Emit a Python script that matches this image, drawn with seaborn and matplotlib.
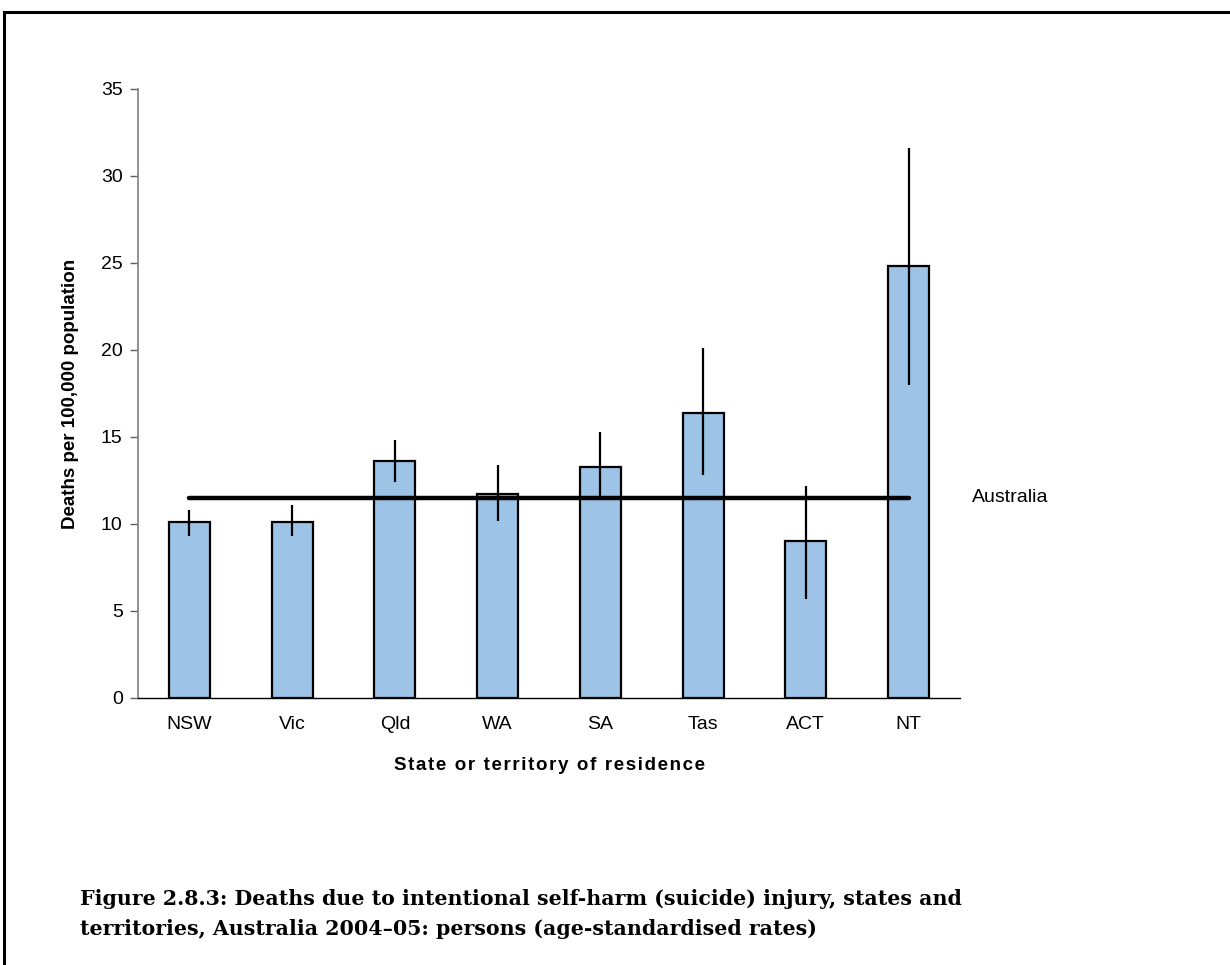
import matplotlib
matplotlib.use('Agg')
import matplotlib.pyplot as plt
import seaborn as sns
import pandas as pd
import numpy as np

# data
states = ['NSW', 'Vic', 'Qld', 'WA', 'SA', 'Tas', 'ACT', 'NT']
rates = [10.1, 10.1, 13.6, 11.7, 13.3, 16.4, 9.0, 24.8]
ci_low = [9.3, 9.3, 12.4, 10.2, 11.6, 12.8, 5.7, 18.0]
ci_high = [10.8, 11.1, 14.8, 13.4, 15.3, 20.1, 12.2, 31.6]
aus_rate = 11.5
y_ticks = [0, 5, 10, 15, 20, 25, 30, 35]

df = pd.DataFrame({'State': states, 'Rate': rates})

sns.set_style('white')
plt.rcParams['font.family'] = ['Liberation Sans', 'DejaVu Sans']
plt.rcParams['text.color'] = 'black'
plt.rcParams['axes.labelcolor'] = 'black'
plt.rcParams['xtick.color'] = 'black'
plt.rcParams['ytick.color'] = 'black'

fig = plt.figure(figsize=(12.3, 9.65), dpi=100)
ax = fig.add_axes([0.1122, 0.2767, 0.6683, 0.6311])

sns.barplot(data=df, x='State', y='Rate', color='#9DC3E6', saturation=1,
            width=0.4, edgecolor='black', linewidth=1.6, ax=ax, errorbar=None)

# confidence intervals
xs = np.arange(len(states))
yerr = [np.array(rates) - np.array(ci_low), np.array(ci_high) - np.array(rates)]
ax.errorbar(xs, rates, yerr=yerr, fmt='none', ecolor='black', elinewidth=1.6, capsize=0)

# Australia rate line
ax.hlines(aus_rate, xs[0], xs[-1], color='black', linewidth=3.2, capstyle='round', zorder=5)
ax.text(xs[-1] + 0.62, aus_rate, 'Australia', fontsize=14, va='center', ha='left')

ax.set_xlim(-0.5, len(states) - 0.5)
ax.set_ylim(0, 35)
ax.set_yticks(y_ticks)
ax.set_xticks(xs)
ax.set_xticks(np.arange(len(states) + 1) - 0.5, minor=True)
ax.tick_params(axis='x', which='major', length=0, labelsize=14, pad=13)
ax.tick_params(axis='x', which='minor', length=5, width=1, color='black', direction='out')
ax.tick_params(axis='y', length=6, width=1, color='#606060', labelsize=14, direction='out',
               left=True, pad=5)

for side in ['top', 'right']:
    ax.spines[side].set_visible(False)
ax.spines['left'].set_color('#808080')
ax.spines['left'].set_linewidth(1.2)
ax.spines['bottom'].set_color('black')
ax.spines['bottom'].set_linewidth(1.0)

# x label is letter-spaced in the original
xlab = '\u200a'.join('State or territory of residence')
ax.set_xlabel(xlab, fontsize=13.5, fontweight='bold', labelpad=17)
ax.set_ylabel('Deaths per 100,000 population', fontsize=13.5, fontweight='bold', labelpad=16)

fig.text(0.065, 0.053, 'Figure 2.8.3: Deaths due to intentional self-harm (suicide) injury, states and\n'
         'territories, Australia 2004\u201305: persons (age-standardised rates)',
         family='DejaVu Serif', fontweight='bold', fontsize=14.8, va='center', ha='left',
         linespacing=1.65)

# outer frame (only top and left edges fall inside the image)
fig.add_artist(plt.Rectangle((0.0035, -0.05), 1.2, 1.0376, transform=fig.transFigure,
                             fill=False, edgecolor='black', linewidth=2.2))

fig.savefig('out.png', dpi=100)
